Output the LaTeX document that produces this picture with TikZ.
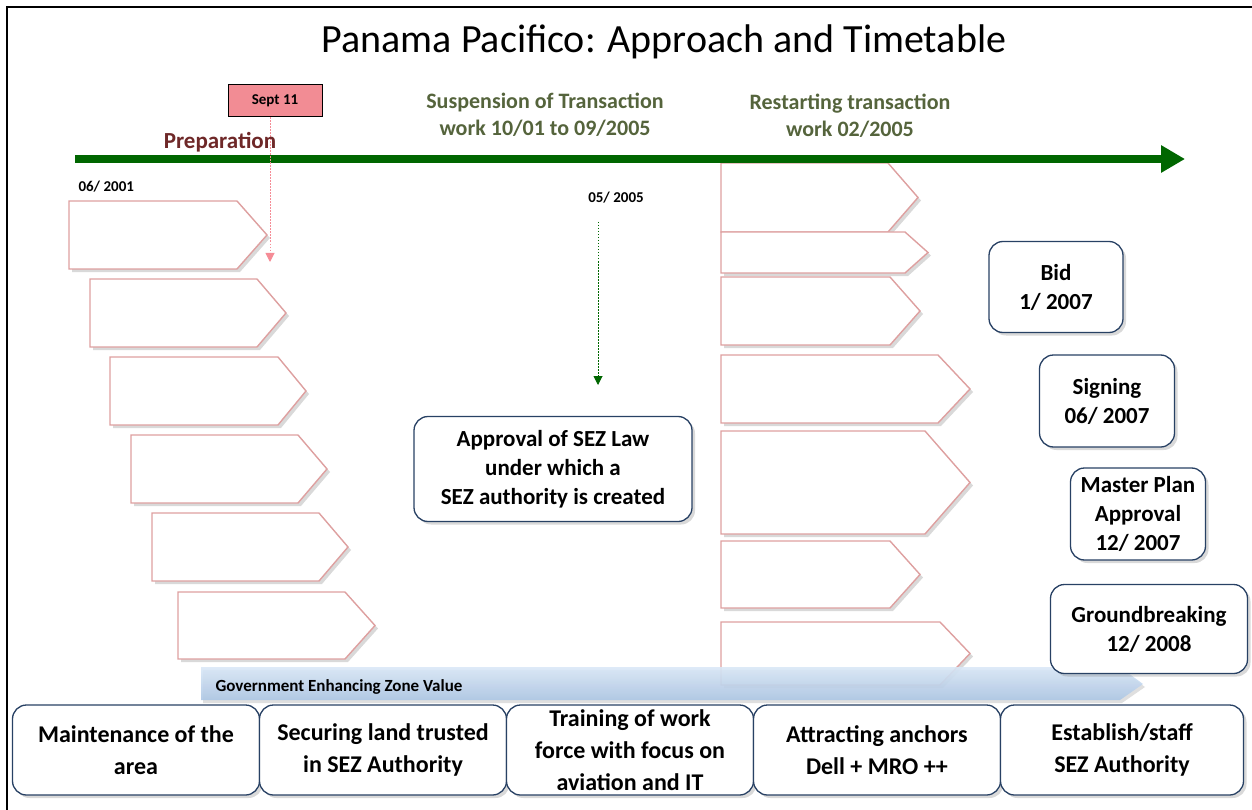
\documentclass[tikz,border=0pt]{standalone}
\usepackage{fontspec}
\setmainfont{Carlito}
\usetikzlibrary{arrows.meta,shadows}
\definecolor{septpink}{RGB}{242,140,148}
\definecolor{droppink}{RGB}{245,140,150}
\definecolor{prepbrown}{RGB}{110,40,40}
\definecolor{olivetext}{RGB}{85,100,60}
\definecolor{timegreen}{RGB}{0,102,0}
\definecolor{stagerose}{RGB}{222,160,160}
\definecolor{boxnavy}{RGB}{40,65,100}
\definecolor{bandtop}{RGB}{218,232,247}
\definecolor{bandbottom}{RGB}{172,198,228}

\newcommand{\stagearrow}[5]{\draw [stage] (#1,#2) -- (#3,#2) -- (#4,{(#2+#5)/2}) -- (#3,#5) -- (#1,#5) -- cycle;}

\begin{document}
\begin{tikzpicture}[x=1pt,y=-1pt,
  stage/.style={draw=stagerose,line width=1.4pt,fill=white,drop shadow={shadow xshift=3pt,shadow yshift=-3pt,opacity=0.3}},
  milestone/.style={draw=boxnavy,line width=1.3pt,fill=white,rounded corners=14pt,align=center,inner sep=0pt,
    font=\bfseries\fontsize{23}{29}\selectfont,drop shadow={shadow xshift=3pt,shadow yshift=-3pt,opacity=0.3}},
  pillar/.style={milestone,minimum width=247pt,minimum height=90pt,font=\bfseries\fontsize{24}{32}\selectfont},
  heading/.style={align=center,text=olivetext,font=\bfseries\fontsize{22}{27}\selectfont},
  datelabel/.style={font=\bfseries\fontsize{15}{17}\selectfont}]
\useasboundingbox (0,0) rectangle (1252,810);
\draw [line width=2pt] (7,810) -- (7,7) -- (1252,7);

\node (title) at (664,42) {\fontsize{40}{46}\selectfont Panama Pacifico: Approach and Timetable};

\foreach \l/\t/\s/\p/\b in {69/201/237/267/269, 90/279/257/286/347, 110/357/278/306/425,
  131/435/298/327/503, 152/513/319/348/581, 178/592/345/375/659}
  {\stagearrow{\l}{\t}{\s}{\p}{\b}}
\foreach \t/\s/\p/\b in {163/888/918/232, 232/905/928/273, 277/890/920/345, 355/938/970/423,
  431/925/970/534, 541/890/920/608, 622/940/970/685}
  {\stagearrow{721}{\t}{\s}{\p}{\b}}

\shade [top color=bandtop,bottom color=bandbottom,fill opacity=0.9,drop shadow={shadow xshift=2pt,shadow yshift=-3pt,opacity=0.25}]
  (201,667) -- (1120,667) -- (1143,684) -- (1120,700) -- (201,700) -- cycle;
\node [anchor=west,font=\bfseries\fontsize{17}{19}\selectfont] (band) at (212,687) {Government Enhancing Zone Value};

\coordinate (tlstart) at (75,159);
\coordinate (tlend) at (1185,159);
\draw [timegreen,line width=8pt,-{Triangle[length=24pt,width=26pt]}] (tlstart) -- (tlend);

\node [draw=black,fill=septpink,line width=1pt,minimum width=94pt,minimum height=32pt,font=\bfseries\fontsize{15}{17}\selectfont] (sept) at (275,101) {Sept 11};
\coordinate (septend) at (270,262);
\draw [droppink,line width=1pt,dash pattern=on 1.5pt off 1.5pt,-{Triangle[length=9pt,width=9pt]}] (sept.south -| septend) -- (septend);
\node [text=prepbrown,font=\bfseries\fontsize{23}{27}\selectfont] (prep) at (220,142) {Preparation};

\node [heading] (suspend) at (545,115) {Suspension of Transaction\\work 10/01 to 09/2005};
\node [heading] (restart) at (850,116) {Restarting transaction\\work 02/2005};

\node [datelabel,anchor=west] (start) at (75,187) {06/ 2001};
\node [datelabel] (lawdate) at (616,198) {05/ 2005};
\coordinate (lawtop) at (598,222);
\coordinate (lawend) at (598,385);
\draw [timegreen,line width=1pt,dash pattern=on 1.5pt off 1.5pt,-{Triangle[length=9pt,width=9pt]}] (lawtop) -- (lawend);

\node [milestone,minimum width=278pt,minimum height=105pt] (law) at (553,469) {Approval of SEZ Law\\under which a\\SEZ authority is created};
\node [milestone,minimum width=134pt,minimum height=91pt] (bid) at (1056,287) {Bid\\1/ 2007};
\node [milestone,minimum width=135pt,minimum height=92pt] (sign) at (1107,401) {Signing\\06/ 2007};
\node [milestone,minimum width=135pt,minimum height=92pt] (plan) at (1138,514) {Master Plan\\Approval\\12/ 2007};
\node [milestone,minimum width=197pt,minimum height=89pt] (ground) at (1149,629) {Groundbreaking\\12/ 2008};

\node [pillar] (upkeep) at (136,750) {Maintenance of the\\area};
\node [pillar] (land) at (383,750) {Securing land trusted\\in SEZ Authority};
\node [pillar] (train) at (630,750) {Training of work\\force with focus on\\aviation and IT};
\node [pillar] (anchor) at (877,750) {Attracting anchors\\Dell + MRO ++};
\node [pillar,minimum width=243pt] (staff) at (1122,750) {Establish/staff\\SEZ Authority};
\end{tikzpicture}
\end{document}
